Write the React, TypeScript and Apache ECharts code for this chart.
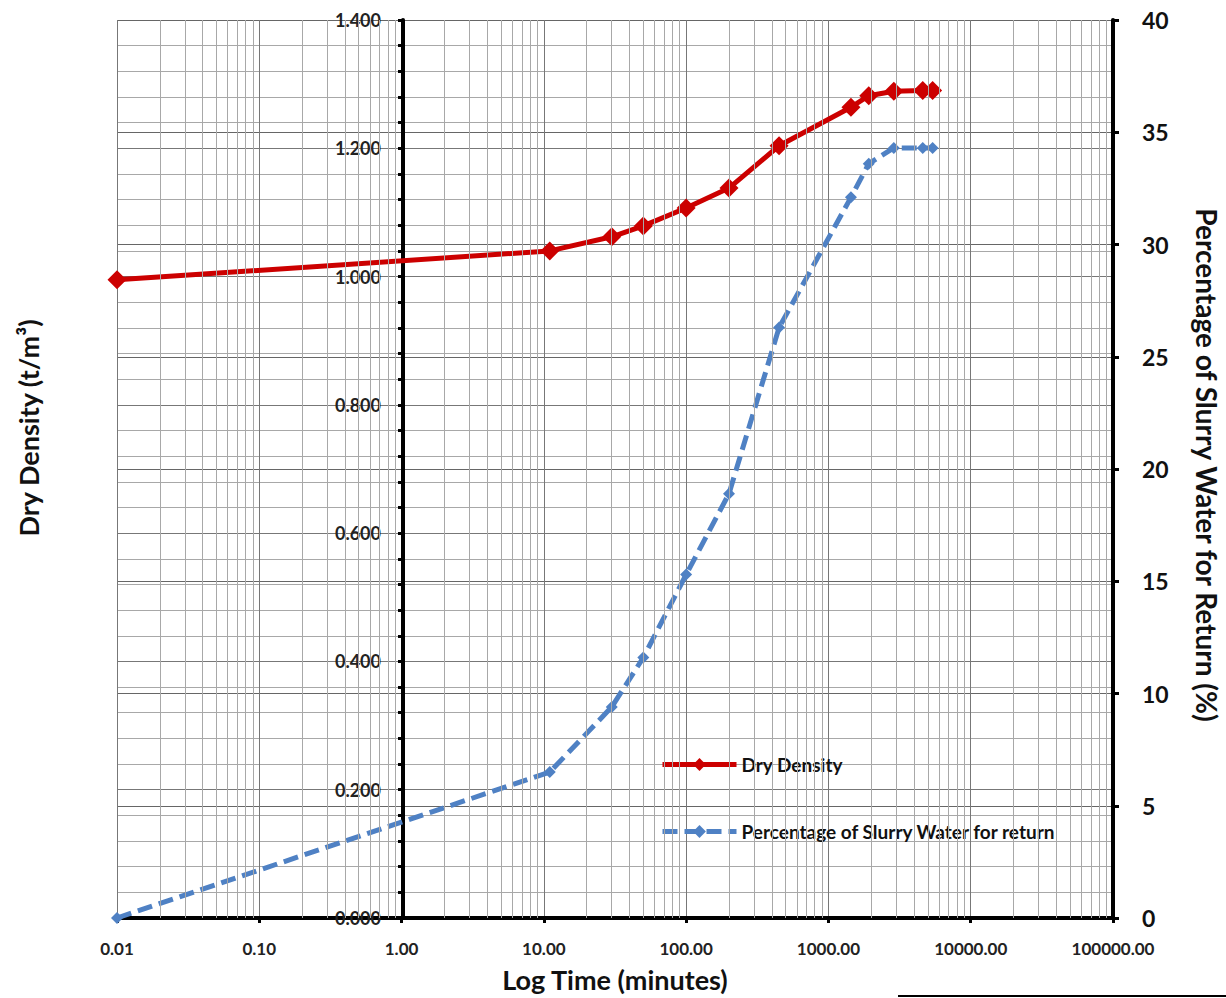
import React, { useEffect, useRef } from "react";
import * as echarts from "echarts";

// Time in minutes (log axis)
const timeMinutes = [0.01, 11, 30, 50, 100, 200, 450, 1440, 1920, 2880, 4600, 5400];
// Dry density (t/m3), left axis
const dryDensity = [0.995, 1.040, 1.062, 1.079, 1.107, 1.138, 1.204, 1.264, 1.282, 1.289, 1.290, 1.290];
// Percentage of slurry water for return (%), right axis
const slurryReturn = [0, 6.5, 9.4, 11.6, 15.3, 18.9, 26.3, 32.1, 33.6, 34.3, 34.3, 34.3];

const decades = [0.01, 0.1, 1, 10, 100, 1000, 10000];
const minorMultipliers = [2, 3, 4, 5, 6, 7, 8, 9];

const seriesNames = ["Dry Density", "Percentage of Slurry Water for return"];
const xAxisTitle = "Log Time (minutes)";
const leftAxisTitle = "Dry Density (t/m\u00B3)";
const rightAxisTitle = "Percentage of Slurry Water for Return (%)";

const FONT = "Lato, 'Open Sans', sans-serif";

export default function App() {
  const ref = useRef<HTMLDivElement>(null);

  useEffect(() => {
    if (!ref.current) return;
    const chart = echarts.init(ref.current, undefined, { renderer: "svg" });

    const minorLines: any[] = [];
    decades.forEach((d) =>
      minorMultipliers.forEach((k) => minorLines.push({ xAxis: +(k * d).toPrecision(3) }))
    );

    const gridLeft = 117;
    const gridRight = 113;
    const gridTop = 20;
    const gridBottom = 80;
    const leftAxisAt = 403;

    chart.setOption({
      animation: false,
      backgroundColor: "#ffffff",
      textStyle: { fontFamily: FONT },
      grid: { left: gridLeft, right: gridRight, top: gridTop, bottom: gridBottom, containLabel: false },
      legend: {
        data: seriesNames,
        orient: "vertical",
        left: 655,
        top: 750,
        itemWidth: 74,
        itemHeight: 16,
        itemGap: 48,
        lineStyle: { width: 5 },
        textStyle: { fontFamily: FONT, fontWeight: "bold", fontSize: 19, color: "#111" },
      },
      xAxis: {
        type: "log",
        logBase: 10,
        min: 0.01,
        max: 100000,
        interval: 1,
        splitNumber: 7,
        axisLine: { show: true, lineStyle: { color: "#000", width: 4 } },
        axisTick: { show: true, length: 5, lineStyle: { color: "#000", width: 3 } },
        axisLabel: {
          margin: 22,
          fontFamily: FONT,
          fontSize: 17,
          fontWeight: "bold",
          color: "#222",
          formatter: (v: number) => v.toFixed(2),
        },
        splitLine: { show: true, lineStyle: { color: "#777777", width: 1 } },
      },
      yAxis: [
        {
          type: "value",
          position: "left",
          offset: -(leftAxisAt - gridLeft),
          min: 0,
          max: 1.4,
          interval: 0.2,
          axisLine: { show: true, lineStyle: { color: "#000", width: 4 } },
          axisTick: { show: true, length: 5, lineStyle: { color: "#000", width: 3 } },
          minorTick: { show: true, splitNumber: 5, length: 5, lineStyle: { color: "#000", width: 3 } },
          axisLabel: {
            margin: 22,
            fontFamily: FONT,
            fontSize: 18,
            fontWeight: "bold",
            color: "#222",
            formatter: (v: number) => v.toFixed(3),
          },
          splitLine: { show: true, lineStyle: { color: "#777777", width: 1 } },
          minorSplitLine: { show: true, lineStyle: { color: "#a8a8a8", width: 1 } },
        },
        {
          type: "value",
          position: "right",
          min: 0,
          max: 40,
          interval: 5,
          axisLine: { show: true, lineStyle: { color: "#000", width: 4 } },
          axisTick: { show: true, length: 6, lineStyle: { color: "#000", width: 3 } },
          axisLabel: {
            margin: 29,
            fontFamily: FONT,
            fontSize: 23,
            fontWeight: "bold",
            color: "#111",
          },
          splitLine: { show: true, lineStyle: { color: "#666666", width: 1 } },
        },
      ],
      series: [
        {
          name: "minor-grid",
          type: "line",
          data: [],
          z: 1,
          silent: true,
          markLine: {
            silent: true,
            symbol: "none",
            label: { show: false },
            lineStyle: { color: "#a8a8a8", width: 1, type: "solid" },
            data: minorLines,
          },
        },
        {
          name: seriesNames[0],
          type: "line",
          yAxisIndex: 0,
          z: 4,
          data: timeMinutes.map((t, i) => [t, dryDensity[i]]),
          symbol: "diamond",
          symbolSize: 19,
          itemStyle: { color: "#cc0000" },
          lineStyle: { color: "#cc0000", width: 5 },
        },
        {
          name: seriesNames[1],
          type: "line",
          yAxisIndex: 1,
          z: 3,
          data: timeMinutes.map((t, i) => [t, slurryReturn[i]]),
          symbol: "diamond",
          symbolSize: 12,
          itemStyle: { color: "#4f81c4" },
          lineStyle: { color: "#4f81c4", width: 5, type: [15, 7] },
        },
      ],
      graphic: [
        {
          type: "text",
          x: 28,
          y: 428,
          rotation: Math.PI / 2,
          style: {
            text: leftAxisTitle,
            fontFamily: FONT,
            fontSize: 27,
            fontWeight: "bold",
            fill: "#111",
            align: "center",
            verticalAlign: "middle",
          },
        },
        {
          type: "text",
          x: 1207,
          y: 465,
          rotation: -Math.PI / 2,
          style: {
            text: rightAxisTitle,
            fontFamily: FONT,
            fontSize: 28,
            fontWeight: "bold",
            fill: "#111",
            align: "center",
            verticalAlign: "middle",
          },
        },
        {
          type: "text",
          x: 615,
          y: 979,
          style: {
            text: xAxisTitle,
            fontFamily: FONT,
            fontSize: 27,
            fontWeight: "bold",
            fill: "#111",
            align: "center",
            verticalAlign: "middle",
          },
        },
        {
          type: "line",
          shape: { x1: 898, y1: 996, x2: 1226, y2: 996 },
          style: { stroke: "#000", lineWidth: 2 },
        },
      ],
    });

    return () => chart.dispose();
  }, []);

  return (
    <div
      ref={ref}
      style={{ position: "absolute", left: 0, top: 0, width: 1226, height: 998 }}
    />
  );
}
